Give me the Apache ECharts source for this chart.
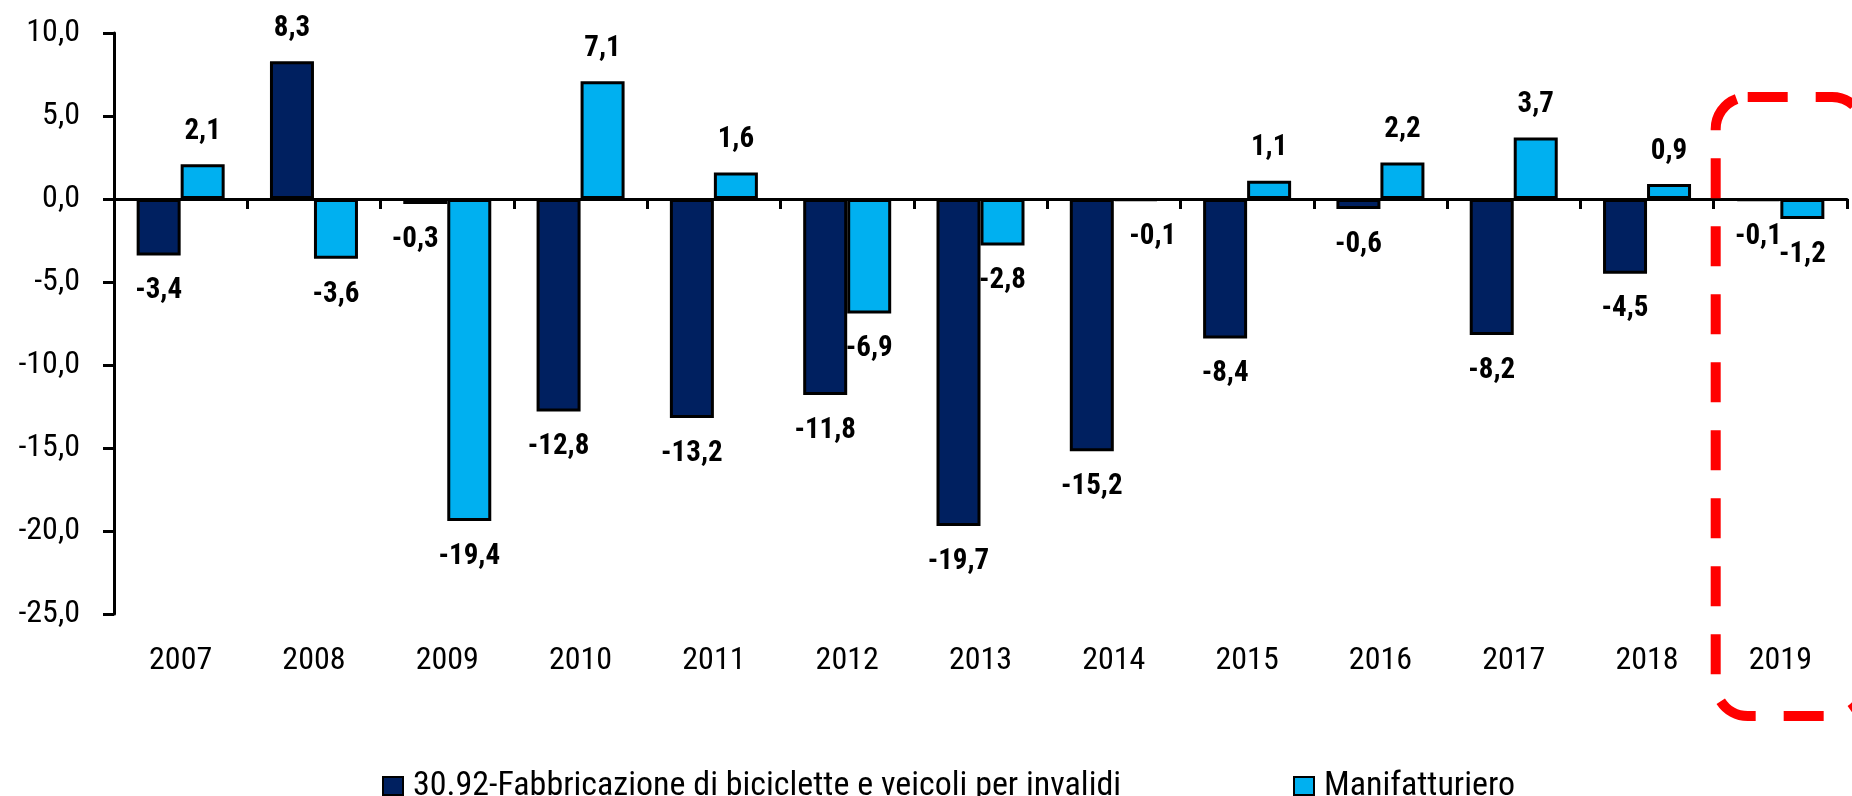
<!DOCTYPE html>
<html>
<head>
<meta charset="utf-8">
<script src="https://cdn.jsdelivr.net/npm/echarts@6/dist/echarts.min.js"></script>
<style>
html,body{margin:0;padding:0;background:#fff;}
#main{width:1852px;height:796px;}
</style>
</head>
<body>
<div id="main"></div>
<script>
const categories = ['2007','2008','2009','2010','2011','2012','2013','2014','2015','2016','2017','2018','2019'];
const seriesNames = ['30.92-Fabbricazione di biciclette e veicoli per invalidi', 'Manifatturiero'];
const biciclette = [-3.4, 8.3, -0.3, -12.8, -13.2, -11.8, -19.7, -15.2, -8.4, -0.6, -8.2, -4.5, -0.1];
const manifatturiero = [2.1, -3.6, -19.4, 7.1, 1.6, -6.9, -2.8, -0.1, 1.1, 2.2, 3.7, 0.9, -1.2];
const yMin = -25, yMax = 10, yStep = 5;

const FONT = '"Roboto Condensed", "Liberation Sans", Arial, sans-serif';
const fmt = v => v.toFixed(1).replace('.', ',');

// small manual label nudges (styling only), keyed by series index and category
const labelNudge = { '0-2009': [-10, 0], '1-2014': [17, 0] };

function items(arr, si) {
  return arr.map((v, i) => {
    const nudge = labelNudge[si + '-' + categories[i]] || [0, 0];
    return {
      value: v,
      label: {
        position: v < 0 ? 'bottom' : 'top',
        distance: v < 0 ? 21 : 18,
        offset: nudge
      }
    };
  });
}

function barSeries(si, arr, color) {
  return {
    name: seriesNames[si],
    type: 'bar',
    xAxisIndex: 0,
    data: items(arr, si),
    barWidth: 44,
    barGap: '0%',
    itemStyle: { color: color, borderColor: '#000', borderWidth: 3 },
    label: {
      show: true,
      fontFamily: FONT,
      fontWeight: 'bold',
      fontSize: 29,
      color: '#000',
      formatter: p => fmt(p.value)
    }
  };
}

function legendCfg(name, left) {
  return {
    data: [name], left: left, top: 764,
    itemWidth: 20, itemHeight: 18, itemGap: 6,
    icon: 'rect',
    itemStyle: { borderColor: '#000', borderWidth: 2 },
    textStyle: { fontFamily: FONT, fontSize: 34, color: '#000', padding: [0, 0, 0, 5] }
  };
}

const chart = echarts.init(document.getElementById('main'), null, { renderer: 'canvas' });
const option = {
  animation: false,
  backgroundColor: '#fff',
  grid: { left: 114, right: 5, top: 33, bottom: 182, containLabel: false },
  legend: [legendCfg(seriesNames[0], 377), legendCfg(seriesNames[1], 1288)],
  xAxis: [
    {
      type: 'category',
      data: categories,
      axisLine: { show: true, onZero: true, lineStyle: { color: '#000', width: 3 } },
      axisTick: { show: true, inside: false, length: 10, lineStyle: { color: '#000', width: 3 } },
      axisLabel: { show: false },
      splitLine: { show: false }
    },
    {
      type: 'category',
      data: categories,
      position: 'bottom',
      axisLine: { show: false, onZero: false },
      axisTick: { show: false },
      axisLabel: { show: true, margin: 31, fontFamily: FONT, fontSize: 32, color: '#000' },
      splitLine: { show: false }
    }
  ],
  yAxis: {
    type: 'value',
    min: yMin, max: yMax, interval: yStep,
    axisLine: { show: true, lineStyle: { color: '#000', width: 3 } },
    axisTick: { show: true, inside: false, length: 11, lineStyle: { color: '#000', width: 3 } },
    axisLabel: { margin: 34, fontFamily: FONT, fontSize: 32, color: '#000', formatter: v => fmt(v) },
    splitLine: { show: false }
  },
  series: [
    barSeries(0, biciclette, '#002060'),
    barSeries(1, manifatturiero, '#00B0F0')
  ]
};
chart.setOption(option);

// Red dashed highlight box around the last category
const cx = chart.convertToPixel({ xAxisIndex: 0 }, categories[categories.length - 1]);
const cw = chart.convertToPixel({ xAxisIndex: 0 }, categories[1]) - chart.convertToPixel({ xAxisIndex: 0 }, categories[0]);
const boxLeft = cx - cw / 2 + 2;
chart.setOption({
  graphic: [{
    type: 'rect',
    z: 100,
    shape: { x: boxLeft, y: 97, width: 1864 - boxLeft, height: 716 - 97, r: 32 },
    style: { fill: 'none', stroke: '#FF0000', lineWidth: 10, lineDash: [40, 28] }
  }]
});
</script>
</body>
</html>
